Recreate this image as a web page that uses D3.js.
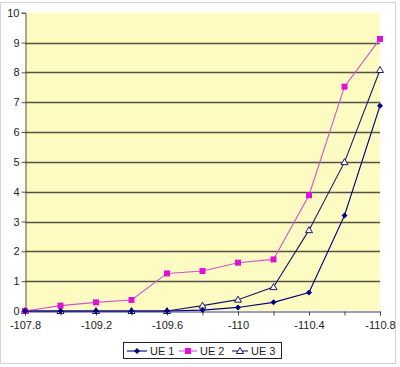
<!DOCTYPE html>
<html><head><meta charset="utf-8">
<script src="https://cdn.jsdelivr.net/npm/d3@7"></script>
<style>body{margin:0;background:#fff}svg{display:block}text{font-family:"Liberation Sans",Arial,sans-serif}</style>
</head><body>
<svg id="c" width="400" height="367"></svg>
<script>
const categories = ["-107.8","-109","-109.2","-109.4","-109.6","-109.8","-110","-110.2","-110.4","-110.6","-110.8"];
const ue1 = [0,0,0,0,0,0.03,0.12,0.29,0.62,3.2,6.88];
const ue2 = [0,0.18,0.29,0.37,1.26,1.34,1.62,1.73,3.88,7.52,9.12];
const ue3 = [0,0,0,0,0,0.18,0.38,0.8,2.71,4.99,8.08];
const yTicks = [0,1,2,3,4,5,6,7,8,9,10];
const seriesNames = ["UE 1","UE 2","UE 3"];

const svg = d3.select("#c");
const x = d3.scalePoint().domain(categories).range([25,380]);
const y = d3.scaleLinear().domain([0,10]).range([311,12.7]);

// chart border
svg.append("rect").attr("x",0.5).attr("y",2.5).attr("width",395).attr("height",361).attr("fill","#fff").attr("stroke","#d4d4d4");
// plot area
svg.append("rect").attr("x",25).attr("y",y(10)).attr("width",355).attr("height",y(0)-y(10)).attr("fill","#fdfbc2");

// gridlines
svg.append("g").selectAll("line").data(yTicks.filter(d=>d>0&&d<10)).join("line")
  .attr("x1",25).attr("x2",380).attr("y1",d=>Math.round(y(d))+0.5).attr("y2",d=>Math.round(y(d))+0.5)
  .attr("stroke","#55524a").attr("stroke-width",1.3);

// y axis
const ya = svg.append("g").attr("transform","translate(25.5,0)")
  .call(d3.axisLeft(y).tickValues(yTicks).tickSize(4).tickPadding(2).tickFormat(d3.format("d")));
ya.select(".domain").attr("stroke","#5a5440");
ya.selectAll(".tick line").attr("stroke","#5a5440");
ya.selectAll("text").attr("font-size",11).attr("fill","#222");

// x axis
const xa = svg.append("g").attr("transform","translate(0,311.5)")
  .call(d3.axisBottom(x).tickSize(4).tickPadding(6).tickFormat((d,i)=> i%2===0 ? d : ""));
xa.select(".domain").attr("stroke","#3a3a7a");
xa.selectAll(".tick line").attr("stroke","#444");
xa.selectAll("text").attr("font-size",11).attr("fill","#222");

const line = d3.line().x((d,i)=>x(categories[i])).y(d=>y(d));
const series = [
  {name:seriesNames[0], data:ue1, color:"#000080", marker:"diamond"},
  {name:seriesNames[1], data:ue2, color:"#cc55cc", mcolor:"#e010d8", marker:"square"},
  {name:seriesNames[2], data:ue3, color:"#1a1a6a", marker:"triangle"}
];
function drawMarker(g, type, cx, cy, s){
  if(type==="diamond"){
    g.append("path").attr("d",`M${cx},${cy-3}L${cx+3},${cy}L${cx},${cy+3}L${cx-3},${cy}Z`).attr("fill",s.color);
  } else if(type==="square"){
    g.append("rect").attr("x",cx-3).attr("y",cy-3).attr("width",6).attr("height",6).attr("fill",s.mcolor);
  } else {
    g.append("path").attr("d",`M${cx},${cy-3.5}L${cx+3.5},${cy+2.5}L${cx-3.5},${cy+2.5}Z`).attr("fill","#fffff0").attr("stroke",s.color).attr("stroke-width",1);
  }
}
[series[2],series[1],series[0]].forEach(s=>{
  const g = svg.append("g");
  g.append("path").attr("d",line(s.data)).attr("fill","none").attr("stroke",s.color).attr("stroke-width",1.1);
  s.data.forEach((v,i)=>drawMarker(g,s.marker,x(categories[i]),y(v),s));
});

// legend
const lg = svg.append("g");
lg.append("rect").attr("x",123.5).attr("y",342.5).attr("width",158).attr("height",16).attr("fill","#fff").attr("stroke","#222");
const lx = [127,179,232];
const lw = [20,18,16];
series.forEach((s,i)=>{
  const cy = 351;
  lg.append("line").attr("x1",lx[i]).attr("x2",lx[i]+lw[i]).attr("y1",cy).attr("y2",cy).attr("stroke",s.color).attr("stroke-width",1.1);
  drawMarker(lg,s.marker,lx[i]+lw[i]/2,cy,s);
  lg.append("text").attr("x",lx[i]+lw[i]+3).attr("y",cy+4).attr("font-size",11).attr("fill","#222").text(s.name);
});
</script>
</body></html>
